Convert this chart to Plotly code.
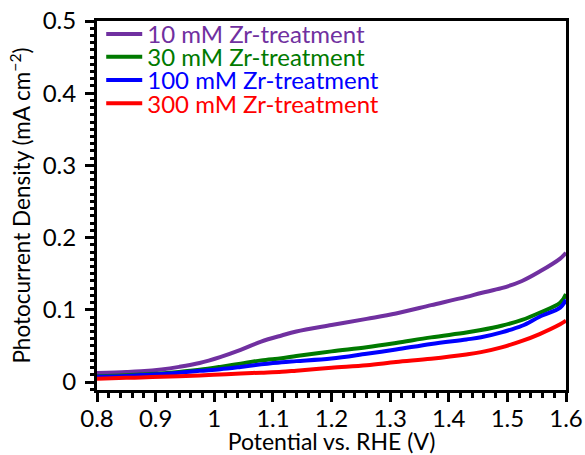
import plotly.graph_objects as go

# Potential vs. RHE (V)
potential = [0.80, 0.85, 0.875, 0.91, 0.94, 0.975, 1.01, 1.045, 1.08, 1.115, 1.14,
             1.20, 1.26, 1.31, 1.37, 1.43, 1.455, 1.49, 1.525, 1.555, 1.59, 1.60]

# Photocurrent density (mA cm^-2)
j_10mM = [0.0127, 0.0140, 0.0150, 0.0175, 0.0210, 0.0264, 0.0346, 0.0446, 0.0560, 0.0645, 0.0700,
          0.0790, 0.0875, 0.0950, 0.1065, 0.1180, 0.1234, 0.1300, 0.1400, 0.1530, 0.1710, 0.1790]
j_30mM = [0.0082, 0.0095, 0.0105, 0.0120, 0.0140, 0.0170, 0.0210, 0.0255, 0.0300, 0.0330, 0.0360,
          0.0425, 0.0483, 0.0542, 0.0619, 0.0685, 0.0720, 0.0780, 0.0860, 0.0960, 0.1097, 0.1220]
j_100mM = [0.0073, 0.0085, 0.0096, 0.0110, 0.0128, 0.0155, 0.0178, 0.0210, 0.0245, 0.0275, 0.0290,
           0.0325, 0.0392, 0.0450, 0.0528, 0.0590, 0.0620, 0.0688, 0.0780, 0.0905, 0.1030, 0.1140]
j_300mM = [0.0046, 0.0058, 0.0064, 0.0073, 0.0082, 0.0091, 0.0105, 0.0119, 0.0130, 0.0142, 0.0158,
           0.0198, 0.0232, 0.0277, 0.0323, 0.0382, 0.0414, 0.0480, 0.0570, 0.0665, 0.0800, 0.0850]

series_names = ["10 mM Zr-treatment", "30 mM Zr-treatment", "100 mM Zr-treatment", "300 mM Zr-treatment"]
series_values = [j_10mM, j_30mM, j_100mM, j_300mM]
series_colors = ["#7030A0", "#007A00", "#0000FF", "#FF0000"]

x_ticks = [0.8, 0.9, 1.0, 1.1, 1.2, 1.3, 1.4, 1.5, 1.6]
x_tick_labels = ["0.8", "0.9", "1", "1.1", "1.2", "1.3", "1.4", "1.5", "1.6"]
y_ticks = [0, 0.1, 0.2, 0.3, 0.4, 0.5]
y_tick_labels = ["0", "0.1", "0.2", "0.3", "0.4", "0.5"]

FONT = "Lato, 'Open Sans', sans-serif"

# legend placement (paper coords) for each series, one legend per row
legend_ids = ["legend", "legend2", "legend3", "legend4"]
legend_rows_y = [0.964, 0.902, 0.839, 0.776]

fig = go.Figure()
for name, vals, col, lid in zip(series_names, series_values, series_colors, legend_ids):
    fig.add_trace(go.Scatter(
        x=potential, y=vals, mode="lines",
        line=dict(color=col, width=4, shape="spline", smoothing=1.0),
        name=f'<span style="color:{col}">{name}</span>',
        legend=lid,
    ))

axis_common = dict(
    showline=True, linecolor="black", linewidth=3, mirror=True,
    ticks="outside", tickcolor="black", tickwidth=3, ticklen=9,
    showgrid=False, zeroline=False, automargin=False,
    ticklabeloverflow="allow",
    tickfont=dict(family=FONT, size=24, color="black"),
)

legend_common = dict(
    x=0.009, xanchor="left", yanchor="middle",
    bgcolor="rgba(0,0,0,0)", borderwidth=0,
    font=dict(family=FONT, size=24),
    itemwidth=36,
)
layout_legends = {lid: dict(y=ly, **legend_common) for lid, ly in zip(legend_ids, legend_rows_y)}

fig.update_layout(
    width=585, height=455,
    margin=dict(l=97, r=19, t=16, b=65),
    paper_bgcolor="white", plot_bgcolor="white",
    font=dict(family=FONT, color="black"),
    showlegend=True,
    xaxis=dict(
        range=[0.8, 1.6], tickvals=x_ticks, ticktext=x_tick_labels,
        minor=dict(dtick=0.02, tick0=0.8, ticks="outside", ticklen=5, tickwidth=2.5, tickcolor="black"),
        ticklabelstandoff=-4,
        title=dict(text="Potential vs. RHE (V)", font=dict(family=FONT, size=23), standoff=4),
        **axis_common,
    ),
    yaxis=dict(
        range=[-0.011, 0.5], tickvals=y_ticks, ticktext=y_tick_labels,
        minor=dict(dtick=0.01, tick0=0, ticks="outside", ticklen=4, tickwidth=2.5, tickcolor="black"),
        ticklabelstandoff=4,
        title=dict(text="Photocurrent Density (mA cm<sup>−2</sup>)", font=dict(family=FONT, size=22.5), standoff=6),
        **axis_common,
    ),
    **layout_legends,
)

# remove the default 8px page margin so the 585x455 figure fills the window exactly
fig.write_html("out.html", config={"displayModeBar": False},
               post_script="document.body.style.margin='0';")
